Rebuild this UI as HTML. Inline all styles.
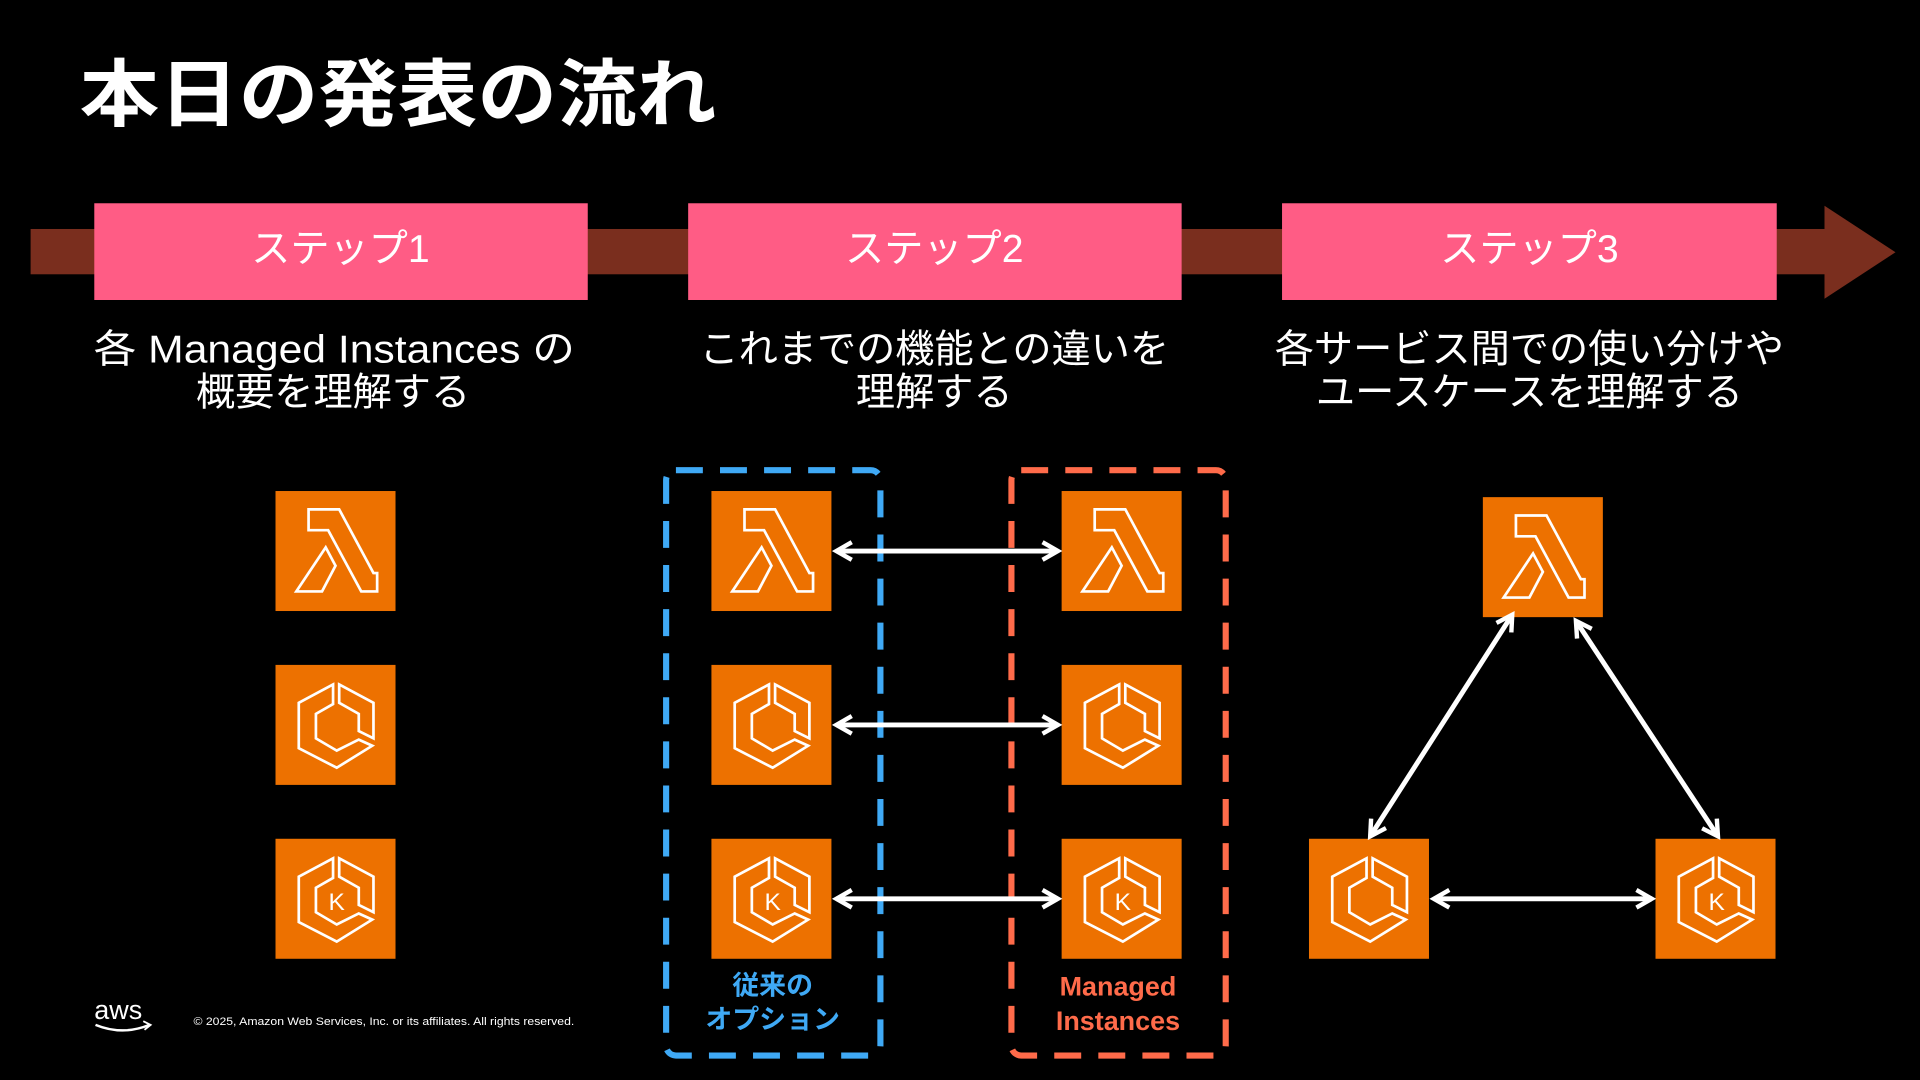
<!DOCTYPE html>
<html><head><meta charset="utf-8"><style>
html,body{margin:0;padding:0;background:#000;}
svg{display:block}
text{font-family:"Liberation Sans","Noto Sans CJK JP",sans-serif;}
</style></head><body>
<svg width="1920" height="1080" viewBox="0 0 1568 882" xmlns="http://www.w3.org/2000/svg">
<defs>
<g id="lam">
<rect width="98" height="98" fill="#ed7100"/>
<polygon points="27,15 52,15 80,67 83,67 83,82 70,82 43,32 27,32" fill="none" stroke="#fff" stroke-width="2.2" stroke-linejoin="miter"/>
<polygon points="41,46 49,61 38,82 17,82" fill="none" stroke="#fff" stroke-width="2.2"/>
</g>
<g id="hex">
<polygon points="47,16 19,31 19,68 50,84 79,66 68,61 50,70 33,60 33,40 47,32" fill="none" stroke="#fff" stroke-width="2.2"/>
<polygon points="52,16 80,31 80,60 68,54 68,40 52,31" fill="none" stroke="#fff" stroke-width="2.2"/>
</g>
<g id="ecs"><rect width="98" height="98" fill="#ed7100"/><use href="#hex"/></g>
<g id="eks"><rect width="98" height="98" fill="#ed7100"/><use href="#hex"/><text x="50" y="58" font-size="20" fill="#fff" text-anchor="middle">K</text></g>
<marker id="ah" viewBox="0 0 10 10" refX="8" refY="5" markerWidth="4.5" markerHeight="4.5" orient="auto-start-reverse"><polyline points="1,1 8,5 1,9" fill="none" stroke="#fff" stroke-width="2"/></marker>
</defs>
<rect width="1568" height="882" fill="#000"/>
<text x="65" y="98" font-size="60" font-weight="bold" fill="#fff" textLength="520" lengthAdjust="spacingAndGlyphs">本日の発表の流れ</text>
<rect x="25" y="187" width="1466" height="37" fill="#7a2e1e"/>
<polygon points="1490,168 1548,206 1490,244" fill="#7a2e1e"/>
<g fill="#ff5c85"><rect x="77" y="166" width="403" height="79"/><rect x="562" y="166" width="403" height="79"/><rect x="1047" y="166" width="404" height="79"/></g>
<g font-size="32" fill="#fff" text-anchor="middle">
<text x="278" y="214">ステップ1</text><text x="763" y="214">ステップ2</text><text x="1249" y="214">ステップ3</text>
<text x="273" y="296" textLength="393" lengthAdjust="spacingAndGlyphs">各 Managed Instances の</text><text x="272" y="331">概要を理解する</text>
<text x="763" y="296">これまでの機能との違いを</text><text x="763" y="331">理解する</text>
<text x="1249" y="296">各サービス間での使い分けや</text><text x="1249" y="331">ユースケースを理解する</text>
</g>
<use href="#lam" x="225" y="401"/><use href="#ecs" x="225" y="543"/><use href="#eks" x="225" y="685"/>
<use href="#lam" x="581" y="401"/><use href="#ecs" x="581" y="543"/><use href="#eks" x="581" y="685"/>
<use href="#lam" x="867" y="401"/><use href="#ecs" x="867" y="543"/><use href="#eks" x="867" y="685"/>
<use href="#lam" x="1211" y="406"/><use href="#ecs" x="1069" y="685"/><use href="#eks" x="1352" y="685"/>
<rect x="544" y="384" width="175" height="478" rx="8" fill="none" stroke="#3fa9f5" stroke-width="5" stroke-dasharray="22,14"/>
<rect x="826" y="384" width="175" height="478" rx="8" fill="none" stroke="#ff6b4a" stroke-width="5" stroke-dasharray="22,14"/>
<g stroke="#fff" stroke-width="4" marker-start="url(#ah)" marker-end="url(#ah)">
<line x1="683" y1="450" x2="864" y2="450"/><line x1="683" y1="592" x2="864" y2="592"/><line x1="683" y1="734" x2="864" y2="734"/>
<line x1="1171" y1="734" x2="1349" y2="734"/>
<line x1="1235" y1="502" x2="1119" y2="683"/><line x1="1287" y1="507" x2="1403" y2="683"/>
</g>
<g font-size="22" font-weight="bold" text-anchor="middle">
<text x="631" y="812" fill="#3fa9f5">従来の</text><text x="631" y="840" fill="#3fa9f5">オプション</text>
<text x="913" y="813" fill="#ff6b4a">Managed</text><text x="913" y="841" fill="#ff6b4a">Instances</text>
</g>
<text x="77" y="832" font-size="22" fill="#fff">aws</text>
<path d="M78,837 Q100,846 122,837" fill="none" stroke="#fff" stroke-width="2"/>
<polyline points="117,834 123,837 118,841" fill="none" stroke="#fff" stroke-width="1.5"/>
<text x="158" y="837" font-size="9" fill="#fff" textLength="311" lengthAdjust="spacingAndGlyphs">© 2025, Amazon Web Services, Inc. or its affiliates. All rights reserved.</text>
</svg>
</body></html>
